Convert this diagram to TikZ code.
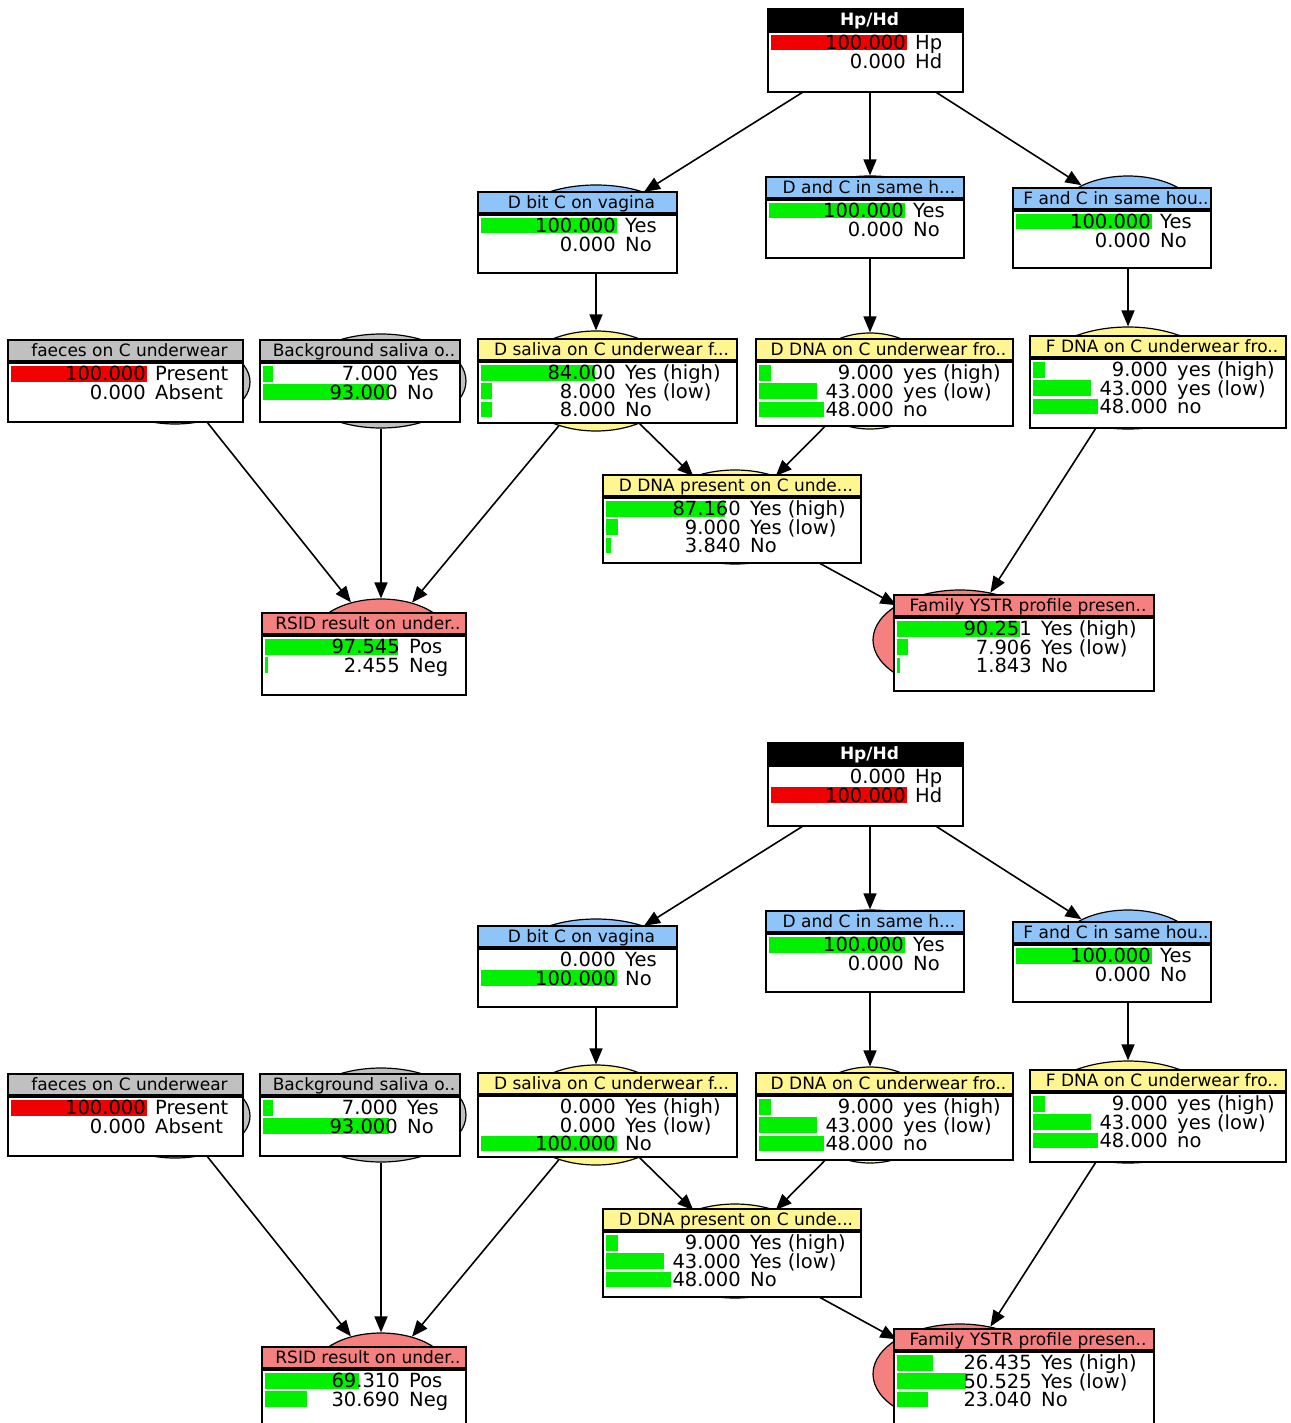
\documentclass[tikz,border=0pt]{standalone}
\usepackage{fontspec}
\setmainfont{DejaVu Sans}
\usetikzlibrary{calc,shapes.geometric,arrows.meta}
\definecolor{hdrblue}{RGB}{142,196,248}
\definecolor{hdrgray}{RGB}{192,192,192}
\definecolor{hdryellow}{RGB}{255,246,145}
\definecolor{hdrsalmon}{RGB}{245,128,128}
\definecolor{bargreen}{RGB}{0,240,0}
\definecolor{barred}{RGB}{240,0,0}
\tikzset{
    varell/.style={ellipse, draw, line width=1.2pt, inner sep=0pt},
    edge/.style={line width=1.6pt, -{Triangle[length=16pt,width=13pt]}},
    hdr/.style={rectangle, draw, line width=2pt, anchor=north west, inner sep=0pt, minimum height=21pt},
    monbody/.style={rectangle, draw, fill=white, line width=2pt, anchor=north west, inner sep=0pt},
    hdrtext/.style={font=\fontsize{17}{17}\selectfont, anchor=base, inner sep=0pt},
    valtext/.style={font=\fontsize{19.5}{19.5}\selectfont, anchor=base east, inner sep=0pt},
    labtext/.style={font=\fontsize{19.5}{19.5}\selectfont, anchor=base west, inner sep=0pt}
}

\begin{document}
\begin{tikzpicture}[x=1pt, y=-1pt]
        \useasboundingbox (0,0) rectangle (1290,1423);
        \clip (0,0) rectangle (1290,1423);
        \fill[white] (0,0) rectangle (1290,1423);
        \foreach \p/\dy in {a/0, b/734}{
            \foreach \n/\cx/\cy/\ew/\eh/\c in {
                hp/870/50/160/76/black, dbit/596/222/160/74/hdrblue,
                dc/870/214/160/76/hdrblue, fc/1128/215/140/78/hdrblue,
                fae/175/382/150/84/hdrgray, bg/381/381/170/94/hdrgray,
                dsal/596/381/160/100/hdryellow, ddna/870/381/130/96/hdryellow,
                fdna/1128/378/186/102/hdryellow, dpres/735/517/160/94/hdryellow,
                rsid/381/640/140/82/hdrsalmon, fam/960/640/174/100/hdrsalmon}{
                \node[varell, fill=\c, minimum width=\ew pt, minimum height=\eh pt] (\n-\p) at (\cx,{\cy+\dy}) {};
            }
            \foreach \s/\t in {hp/dbit, hp/dc, hp/fc, dbit/dsal, dc/ddna, fc/fdna,
                dsal/dpres, ddna/dpres, fae/rsid, bg/rsid, dsal/rsid, dpres/fam, fdna/fam}{
                \draw[edge] (\s-\p) -- (\t-\p);
            }
            \foreach \n/\L/\T/\W/\H/\c/\t in {
                hp/767/8/195/60/black/{\color{white}\bfseries Hp\slash Hd},
                dbit/477/191/199/58/hdrblue/{D bit C on vagina},
                dc/765/176/198/58/hdrblue/{D and C in same h...},
                fc/1012/187/198/57/hdrblue/{F and C in same hou..},
                fae/7/339/235/59/hdrgray/{faeces on C underwear},
                bg/259/339/200/59/hdrgray/{Background saliva o..},
                dsal/477/338/259/61/hdryellow/{D saliva on C underwear f...},
                ddna/755/338/257/64/hdryellow/{D DNA on C underwear fro..},
                fdna/1029/335/256/69/hdryellow/{F DNA on C underwear fro..},
                dpres/602/474/258/65/hdryellow/{D DNA present on C unde...},
                rsid/261/612/204/59/hdrsalmon/{RSID result on under..},
                fam/893/594/260/73/hdrsalmon/{Family YSTR profile presen..}}{
                \node[hdr, fill=\c, minimum width=\W pt] (\n-\p-title) at (\L,{\T+\dy}) {};
                \node[hdrtext] at ($(\n-\p-title.center)+(4,6)$) {\t};
                \node[monbody, minimum width=\W pt, minimum height=\H pt] (\n-\p-body) at (\n-\p-title.south west) {};
            }
        }
        \foreach \p/\n/\c/\vals in {
            a/hp/barred/{100.000/Hp,0.000/Hd},
            a/dbit/bargreen/{100.000/Yes,0.000/No},
            a/dc/bargreen/{100.000/Yes,0.000/No},
            a/fc/bargreen/{100.000/Yes,0.000/No},
            a/fae/barred/{100.000/Present,0.000/Absent},
            a/bg/bargreen/{7.000/Yes,93.000/No},
            a/dsal/bargreen/{84.000/Yes (high),8.000/Yes (low),8.000/No},
            a/ddna/bargreen/{9.000/yes (high),43.000/yes (low),48.000/no},
            a/fdna/bargreen/{9.000/yes (high),43.000/yes (low),48.000/no},
            a/dpres/bargreen/{87.160/Yes (high),9.000/Yes (low),3.840/No},
            a/rsid/bargreen/{97.545/Pos,2.455/Neg},
            a/fam/bargreen/{90.251/Yes (high),7.906/Yes (low),1.843/No},
            b/hp/barred/{0.000/Hp,100.000/Hd},
            b/dbit/bargreen/{0.000/Yes,100.000/No},
            b/dc/bargreen/{100.000/Yes,0.000/No},
            b/fc/bargreen/{100.000/Yes,0.000/No},
            b/fae/barred/{100.000/Present,0.000/Absent},
            b/bg/bargreen/{7.000/Yes,93.000/No},
            b/dsal/bargreen/{0.000/Yes (high),0.000/Yes (low),100.000/No},
            b/ddna/bargreen/{9.000/yes (high),43.000/yes (low),48.000/no},
            b/fdna/bargreen/{9.000/yes (high),43.000/yes (low),48.000/no},
            b/dpres/bargreen/{9.000/Yes (high),43.000/Yes (low),48.000/No},
            b/rsid/bargreen/{69.310/Pos,30.690/Neg},
            b/fam/bargreen/{26.435/Yes (high),50.525/Yes (low),23.040/No}}{
            \foreach \v/\lab [count=\r] in \vals {
                \pgfmathsetmacro{\ry}{11.8+18.3*(\r-1)}
                \ifdim\v pt>0pt
                    \fill[\c] ($(\n-\p-body.north west)+(4,\ry-7.7)$) rectangle ++({1.36*\v},15.4);
                \fi
                \node[valtext] at ($(\n-\p-body.north west)+(139,\ry+7)$) {\v};
                \node[labtext] at ($(\n-\p-body.north west)+(148,\ry+7)$) {\lab};
            }
        }
    \end{tikzpicture}
\end{document}
